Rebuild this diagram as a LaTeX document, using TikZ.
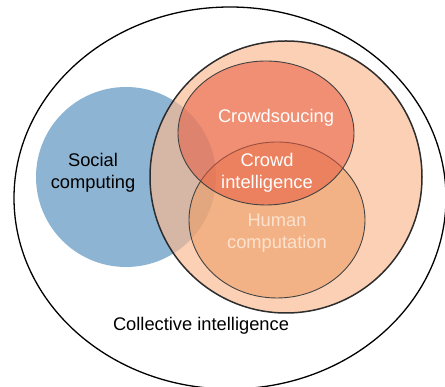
\documentclass[tikz,border=0pt]{standalone}
\usepackage{fontspec}
\setmainfont{Liberation Sans}
\definecolor{socialblue}{RGB}{141,180,210}
\definecolor{crowdpeach}{RGB}{251,185,143}
\definecolor{crowdred}{RGB}{230,89,63}
\definecolor{humanorange}{RGB}{237,155,95}
\definecolor{humantext}{RGB}{252,226,206}
\definecolor{rimgray}{RGB}{45,45,45}
\tikzset{
  label text/.style={font=\fontsize{18.3}{22}\selectfont,align=center},
}
\begin{document}
\begin{tikzpicture}[x=1pt,y=1pt]
      \useasboundingbox (0,0) rectangle (445,387);
      \begin{scope}
      \clip (0,0) rectangle (445,387);
      \draw[line width=1.3pt] (230,189) ellipse [x radius=216, y radius=191];
      \end{scope}
      %
      \fill[socialblue] (126,210) circle [radius=90];
      \filldraw[fill=crowdpeach,fill opacity=0.67,draw=rimgray,line width=1.5pt] (286,210) circle [radius=136];
      %
      \filldraw[fill=humanorange,fill opacity=0.55,draw=rimgray!90,line width=0.9pt] (277,167) ellipse [x radius=88, y radius=78];
      \filldraw[fill=crowdred,fill opacity=0.55,draw=rimgray!90,line width=0.9pt] (266,254) ellipse [x radius=88, y radius=72];
      %
      \node[label text] (social) at (93,214) {Social\\computing};
      \node[label text,text=white] (crowdsourcing) at (276,269) {Crowdsoucing};
      \node[label text,text=white] (crowdintel) at (267,214) {Crowd\\intelligence};
      \node[label text,text=humantext] (human) at (277,154) {Human\\computation};
      \node[label text] (collective) at (201,61) {Collective intelligence};
    \end{tikzpicture}
\end{document}
